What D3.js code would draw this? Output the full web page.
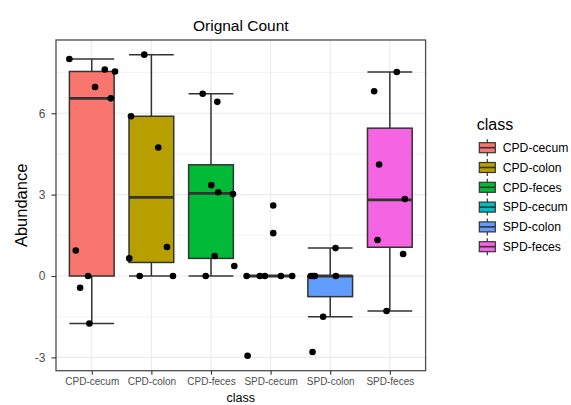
<!DOCTYPE html>
<html>
<head>
<meta charset="utf-8">
<script src="https://cdn.jsdelivr.net/npm/d3@7"></script>
<style>
  body { margin: 0; background: #fff; }
  text { font-family: "Liberation Sans", Arial, Helvetica, sans-serif; }
</style>
</head>
<body>
<div id="chart"></div>
<script>
// categories and box statistics
const categories = ['CPD-cecum', 'CPD-colon', 'CPD-feces', 'SPD-cecum', 'SPD-colon', 'SPD-feces'];
const fills = ['#F8766D', '#B79F00', '#00BA38', '#00BFC4', '#619CFF', '#F564E3'];
const lowerWhisker = [-1.75, 0, 0, 0, -1.5, -1.29];
const q1 = [0, 0.5, 0.65, 0, -0.76, 1.06];
const median = [6.55, 2.9, 3.05, 0, 0, 2.81];
const q3 = [7.54, 5.89, 4.1, 0, 0, 5.45];
const upperWhisker = [8.0, 8.16, 6.72, 0, 1.03, 7.52];

// jittered points: value and horizontal offset (in category steps)
const pointValues = [
  [8.0, 7.61, 7.54, 6.97, 6.55, 0.94, 0, -0.43, -1.75],
  [8.16, 5.89, 4.74, 1.07, 0.65, 0, 0],
  [6.72, 6.42, 3.35, 3.09, 3.02, 0.74, 0.37, 0],
  [2.6, 1.58, 0, 0, 0, 0, 0, -2.94],
  [1.03, 0, 0, 0, 0, -1.5, -2.8],
  [7.52, 6.81, 4.11, 2.84, 1.33, 0.81, -1.29]
];
const pointJitter = [
  [-0.376, 0.218, 0.39, 0.055, 0.319, -0.268, -0.062, -0.196, -0.04],
  [-0.119, -0.342, 0.116, 0.262, -0.371, -0.196, 0.362],
  [-0.139, 0.106, 0.005, 0.122, 0.369, 0.062, 0.391, -0.089],
  [0.044, 0.044, -0.403, -0.18, -0.096, 0.173, 0.362, -0.386],
  [0.089, -0.326, -0.287, -0.258, 0.094, -0.119, -0.297],
  [0.117, -0.263, -0.18, 0.252, -0.206, 0.223, -0.055]
];
const yTicks = [-3, 0, 3, 6];
const yMinor = [-1.5, 1.5, 4.5, 7.5];

const width = 571, height = 405;
const margin = { top: 40, right: 145.4, bottom: 34.3, left: 56 };
const pw = width - margin.left - margin.right;
const ph = height - margin.top - margin.bottom;
const ink = '#333333';

const svg = d3.select('#chart').append('svg')
  .attr('width', width)
  .attr('height', height);

const x = d3.scalePoint().domain(categories).range([0, pw]).padding(0.6);
const y = d3.scaleLinear().domain([-3.49, 8.70]).range([ph, 0]);
const boxW = x.step() * 0.75;

const g = svg.append('g')
  .attr('transform', 'translate(' + margin.left + ',' + margin.top + ')');

// grid
g.selectAll('.minor').data(yMinor).enter().append('line')
  .attr('x1', 0).attr('x2', pw)
  .attr('y1', d => y(d)).attr('y2', d => y(d))
  .attr('stroke', '#EFEFEF').attr('stroke-width', 0.8);
g.selectAll('.major').data(yTicks).enter().append('line')
  .attr('x1', 0).attr('x2', pw)
  .attr('y1', d => y(d)).attr('y2', d => y(d))
  .attr('stroke', '#EBEBEB').attr('stroke-width', 1.1);
g.selectAll('.vmajor').data(categories).enter().append('line')
  .attr('x1', d => x(d)).attr('x2', d => x(d))
  .attr('y1', 0).attr('y2', ph)
  .attr('stroke', '#EBEBEB').attr('stroke-width', 1.1);

// boxes
const boxes = g.selectAll('.box').data(categories).enter().append('g').attr('class', 'box');
boxes.append('line')
  .attr('x1', d => x(d)).attr('x2', d => x(d))
  .attr('y1', (d, i) => y(lowerWhisker[i])).attr('y2', (d, i) => y(upperWhisker[i]))
  .attr('stroke', ink).attr('stroke-width', 1.5);
[lowerWhisker, upperWhisker].forEach(arr => {
  boxes.append('line')
    .attr('x1', d => x(d) - boxW / 2).attr('x2', d => x(d) + boxW / 2)
    .attr('y1', (d, i) => y(arr[i])).attr('y2', (d, i) => y(arr[i]))
    .attr('stroke', ink).attr('stroke-width', 1.5);
});
boxes.append('rect')
  .attr('x', d => x(d) - boxW / 2)
  .attr('width', boxW)
  .attr('y', (d, i) => y(q3[i]))
  .attr('height', (d, i) => y(q1[i]) - y(q3[i]))
  .attr('fill', (d, i) => fills[i])
  .attr('stroke', ink).attr('stroke-width', 1.5);
boxes.append('line')
  .attr('x1', d => x(d) - boxW / 2).attr('x2', d => x(d) + boxW / 2)
  .attr('y1', (d, i) => y(median[i])).attr('y2', (d, i) => y(median[i]))
  .attr('stroke', ink).attr('stroke-width', 2.8);

// points
categories.forEach((c, i) => {
  g.selectAll('.pt' + i).data(pointValues[i]).enter().append('circle')
    .attr('cx', (d, j) => x(c) + pointJitter[i][j] * x.step())
    .attr('cy', d => y(d))
    .attr('r', 3.3)
    .attr('fill', '#000');
});

// panel border
g.append('rect')
  .attr('width', pw).attr('height', ph)
  .attr('fill', 'none').attr('stroke', '#4D4D4D').attr('stroke-width', 1.3);

// axes
const yAxis = g.append('g').call(d3.axisLeft(y).tickValues(yTicks).tickSize(4.5).tickPadding(6).tickFormat(d => String(d)));
const xAxis = g.append('g').attr('transform', 'translate(0,' + ph + ')')
  .call(d3.axisBottom(x).tickSize(4).tickPadding(3));
[yAxis, xAxis].forEach(a => {
  a.select('.domain').remove();
  a.selectAll('line').attr('stroke', ink).attr('stroke-width', 1.1);
  a.selectAll('text').attr('fill', '#4D4D4D').style('font-size', '10px')
    .style('font-family', '"Liberation Sans", Arial, sans-serif');
});
yAxis.selectAll('text').style('font-size', '12px');

// titles
svg.append('text')
  .attr('x', margin.left + pw / 2).attr('y', 31)
  .attr('text-anchor', 'middle')
  .style('font-size', '15.5px').attr('fill', '#000')
  .text('Orignal Count');
svg.append('text')
  .attr('x', margin.left + pw / 2).attr('y', 401.5)
  .attr('text-anchor', 'middle')
  .style('font-size', '12.5px').attr('fill', '#000')
  .text('class');
svg.append('text')
  .attr('transform', 'translate(26.5,' + (margin.top + ph / 2) + ') rotate(-90)')
  .attr('text-anchor', 'middle')
  .style('font-size', '16.5px').attr('fill', '#000')
  .text('Abundance');

// legend
const legend = svg.append('g').attr('transform', 'translate(479.3,147.7)');
legend.append('text')
  .attr('x', -2.6).attr('y', -17.7)
  .style('font-size', '16px').attr('fill', '#000')
  .text('class');
const keys = legend.selectAll('.key').data(categories).enter().append('g')
  .attr('transform', (d, i) => 'translate(0,' + (i * 19.8) + ')');
keys.append('line').attr('x1', 8).attr('x2', 8).attr('y1', -8.5).attr('y2', 8.5)
  .attr('stroke', ink).attr('stroke-width', 1.2);
keys.append('rect').attr('x', 0).attr('y', -5).attr('width', 16).attr('height', 10)
  .attr('fill', (d, i) => fills[i]).attr('stroke', ink).attr('stroke-width', 1.2);
keys.append('line').attr('x1', 0).attr('x2', 16).attr('y1', 0).attr('y2', 0)
  .attr('stroke', ink).attr('stroke-width', 1.6);
keys.append('text')
  .attr('x', 23.4).attr('y', 4.3)
  .style('font-size', '12.2px').attr('fill', '#000')
  .text(d => d);
</script>
</body>
</html>
